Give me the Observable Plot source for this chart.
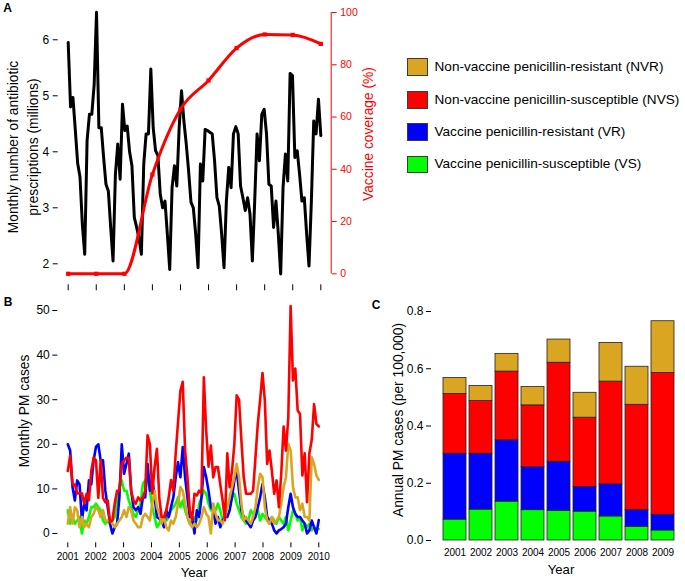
<!DOCTYPE html>
<html>
<head>
<meta charset="utf-8">
<script src="https://cdn.jsdelivr.net/npm/d3@7"></script>
<script src="https://cdn.jsdelivr.net/npm/@observablehq/plot@0.6"></script>
<style>
  html, body { margin: 0; padding: 0; background: #fff; }
  #fig { position: relative; width: 685px; height: 581px; overflow: hidden; background: #fff;
         font-family: Arial, "Liberation Sans", Helvetica, sans-serif; color: #000; }
  .pl { position: absolute; }
  .t { position: absolute; white-space: nowrap; line-height: 1; }
  .c { transform: translate(-50%, -50%); }
  .r { transform: translate(-50%, -50%) rotate(-90deg); }
  .sw { position: absolute; width: 19px; height: 15.7px; border: 1px solid #3a3a3a; }
  .lg { position: absolute; white-space: nowrap; font-size: 13.6px; transform: translateY(-50%); line-height: 1; }
</style>
</head>
<body>
<div id="fig"></div>
<script>
// ---------------- DATA ----------------
// Panel A: monthly antibiotic prescriptions (millions), Jan 2001 .. Dec 2009
const prescriptions = [
  5.95, 4.80, 4.97, 4.40, 3.80, 3.55, 2.70, 2.17, 4.20, 4.67, 4.67, 5.20,
  6.49, 4.43, 4.43, 3.90, 3.42, 3.30, 2.65, 2.05, 3.60, 4.14, 3.51, 4.85,
  4.38, 4.46, 4.00, 3.75, 2.83, 2.65, 2.45, 2.17, 3.78, 4.32, 4.32, 5.48,
  4.43, 4.02, 3.93, 3.24, 3.00, 3.12, 2.53, 1.90, 3.36, 3.75, 3.39, 4.43,
  5.09, 4.55, 4.14, 3.66, 3.10, 3.00, 2.53, 1.93, 3.78, 3.48, 4.40, 4.38,
  4.35, 4.32, 3.84, 3.18, 3.03, 2.53, 1.93, 3.12, 3.72, 3.36, 4.32, 4.45,
  4.32, 3.39, 3.18, 2.95, 3.18, 2.89, 2.05, 3.12, 4.32, 3.84, 4.67, 4.76,
  4.32, 3.42, 3.39, 2.65, 3.12, 2.53, 1.82, 3.36, 3.96, 3.48, 5.40, 5.36,
  3.90, 4.02, 3.60, 3.12, 3.18, 2.53, 1.96, 3.12, 4.55, 4.32, 4.94, 4.29
];
// Panel A: vaccine coverage (%) by year
const coverageYears = [2001, 2002, 2003, 2004, 2005, 2006, 2007, 2008, 2009, 2010];
const coverage = [0, 0, 0, 38, 63, 74, 86.4, 91.6, 91.4, 88];

// Panel B: monthly PM cases by group
const monthlyNVS = [
  14, 17.5, 11, 11, 9, 9, 9, 6.7, 8.9, 7.5, 14, 17,
  16.4, 8, 16.4, 8, 7, 7.4, 2.5, 2.9, 6.7, 9.6, 9.6, 15.6,
  16.4, 17, 17, 9.6, 7.4, 6.7, 8.1, 7.4, 8.1, 9.6, 22, 20,
  9, 14.9, 19, 8, 3.7, 3.7, 5.2, 8, 12, 9.6, 18, 25,
  32, 34, 18.6, 12.6, 5.2, 3, 8.9, 8.5, 9.6, 9, 35, 23,
  15, 19.7, 12.6, 14.9, 14.9, 11, 7.4, 3, 18, 10.4, 14, 20,
  31, 30, 21, 12.6, 8.9, 8.9, 8.9, 9.6, 17, 24.6, 30, 36,
  29.8, 15.6, 18.6, 14, 8.9, 11.9, 5.9, 13.4, 24, 18.6, 26, 51,
  34.3, 37, 27.6, 26.8, 13, 18, 7, 18, 21, 29, 24.6, 24
];
const monthlyVR = [
  20, 18.6, 10.4, 7.4, 11.9, 11, 3, 6.7, 5.2, 11.9, 11, 16.4,
  19.4, 20, 16.4, 16.4, 9.6, 5.9, 2.2, 0, 1.4, 2.2, 8.1, 20,
  13.4, 15.6, 17.9, 9.6, 5.9, 5.2, 5.9, 4.4, 8.1, 8.1, 15.6, 9.6,
  12.6, 8.1, 3.7, 3.3, 2.9, 1.4, 5.2, 3.7, 5.9, 8.1, 12.6, 16,
  12.6, 19.4, 12.6, 8.1, 3.7, 3.7, 0, 5.2, 3.7, 8.1, 14.9, 12.6,
  9.6, 5.9, 5.2, 2.2, 3.7, 1.4, 2.9, 3.7, 3.7, 5.2, 8.1, 11.9,
  14.1, 9.6, 5.2, 3.7, 2.9, 2.2, 1.4, 2.9, 3.7, 5.9, 8.1, 11.1,
  8.1, 3.7, 2.9, 2.2, 0.7, 0, 0.7, 1, 1.4, 2.2, 5.9, 8.9,
  5.9, 4.4, 3.7, 3.7, 2.9, 2.2, 0, 0.7, 2.9, 1.4, 0, 3
];
const monthlyVS = [
  5.2, 2.2, 3.7, 2.2, 2.9, 3.7, 0, 2.9, 2.2, 3.7, 5.9, 5.9,
  6.7, 5.9, 5.2, 2.9, 2.2, 2.9, 2.2, 2.9, 3.7, 7.4, 10.4, 11.9,
  9.6, 9.6, 7.4, 5.9, 4.4, 3.7, 5.2, 6.7, 11.1, 11.9, 12.6, 9.6,
  5.9, 3.7, 1.4, 2.2, 3.7, 2.9, 2.9, 3.7, 5.2, 5.9, 6.7, 8.1,
  5.9, 7.4, 5.2, 3.7, 2.2, 2.9, 3.7, 2.9, 6.7, 8.1, 9.6, 8.9,
  6.7, 5.2, 5.9, 5.2, 6.7, 5.2, 2.9, 3.7, 6.7, 6.7, 8.1, 8.9,
  6.7, 5.2, 3.7, 2.9, 2.2, 2.9, 5.2, 4.4, 5.2, 5.2, 2.9, 4.4,
  3.7, 2.9, 2.2, 3.7, 2.9, 2.2, 3.7, 2.9, 2.2, 3.7, 0.7, 2.9,
  5.2, 4.4, 2.9, 3.7, 0.7, 2.2, 1.4, 2.2, 0.7, 1.4, 1, 1
];
const monthlyNVR = [
  2.2, 5.9, 2.2, 5.9, 5.2, 1.4, 3.7, 1.4, 2.2, 1.4, 3.7, 4.4,
  5.9, 5.2, 3.7, 5.2, 2.9, 2.9, 2.9, 2.2, 1.4, 2.2, 2.9, 3.7,
  5.2, 3.7, 5.9, 5.2, 2.9, 2.2, 1.4, 1.4, 3.7, 4.4, 3.7, 2.9,
  6.7, 9.6, 5.9, 4.4, 2.2, 3.7, 1.4, 0.7, 2.9, 2.2, 3.7,
  6.7, 10.4, 9.6, 6.7, 3.7, 2.2, 1.4, 2.2, 1.4, 2.2, 3.7, 5.9,
  4.4, 3.7, 0, 6.7, 4.4, 2.9, 2.9, 2.2, 3.7, 5.9, 8.1, 10.4,
  12.6, 15.6, 12.6, 6.7, 2.9, 3.7, 2.9, 2.2, 3.7, 5.9, 10.4, 13.4,
  12.6, 5.9, 2.9, 2.2, 3.7, 2.2, 2.9, 3.7, 6.7, 10.4, 12.6, 20.1,
  18.6, 10.4, 8.1, 8.1, 5.2, 6.7, 3.7, 3.7, 2.9, 17.1, 15.6, 13, 12
];

// Panel C: annual PM cases (per 100,000) by group
const annualYears = [2001, 2002, 2003, 2004, 2005, 2006, 2007, 2008, 2009];
const annualVS  = [0.073, 0.108, 0.136, 0.106, 0.104, 0.101, 0.084, 0.048, 0.035];
const annualVR  = [0.230, 0.195, 0.214, 0.150, 0.171, 0.086, 0.112, 0.058, 0.055];
const annualNVS = [0.209, 0.184, 0.240, 0.216, 0.346, 0.242, 0.359, 0.368, 0.495];
const annualNVR = [0.056, 0.053, 0.062, 0.064, 0.081, 0.087, 0.135, 0.133, 0.181];

// Groups / legend
const groupKeys   = ["NVR", "NVS", "VR", "VS"];
const groupLabels = ["Non-vaccine penicillin-resistant (NVR)", "Non-vaccine penicillin-susceptible (NVS)",
                     "Vaccine penicillin-resistant (VR)", "Vaccine penicillin-susceptible (VS)"];
const groupColors = ["#DAA520", "#FF0000", "#0000FF", "#00FF00"];

// Tick values
const yearTicks = [2001, 2002, 2003, 2004, 2005, 2006, 2007, 2008, 2009, 2010];
const ticksA = [2, 3, 4, 5, 6];
const ticksCov = [0, 20, 40, 60, 80, 100];
const ticksB = [0, 10, 20, 30, 40, 50];
const ticksC = [0, 0.2, 0.4, 0.6, 0.8];

// ---------------- BUILD ----------------
const FONT = 'Arial, "Liberation Sans", Helvetica, sans-serif';
const fig = document.getElementById("fig");
const colorOf = Object.fromEntries(groupKeys.map((k, i) => [k, groupColors[i]]));

// monthly time index spanning 2001..2010
const monthT = (i, n) => 2001 + i * 9 / (n - 1);
const toMonthly = (arr, group) => arr.map((v, i) => ({t: monthT(i, arr.length), v, group}));

function place(svg, left, top) {
  const d = document.createElement("div");
  d.className = "pl";
  d.style.left = left + "px";
  d.style.top = top + "px";
  d.appendChild(svg);
  fig.appendChild(d);
}
function text(str, x, y, cls, css = {}) {
  const d = document.createElement("div");
  d.className = "t " + cls;
  d.textContent = str;
  d.style.left = x + "px";
  d.style.top = y + "px";
  Object.assign(d.style, css);
  fig.appendChild(d);
}

// ---- Panel A (black) ----
const xA = [2000.644, 2010.37];
const commonA = {width: 385, height: 295, marginLeft: 57.7, marginRight: 54.3, marginTop: 2, marginBottom: 10.7};
const plotA = Plot.plot({
  ...commonA,
  style: {background: "transparent", fontFamily: FONT, fontSize: "12px", color: "black", overflow: "visible"},
  x: {domain: xA, axis: null},
  y: {domain: [1.625, 6.666], axis: null},
  marks: [
    Plot.line(toMonthly(prescriptions, "rx"), {x: "t", y: "v", stroke: "black", strokeWidth: 3, strokeLinejoin: "round", strokeLinecap: "round"}),
    Plot.axisY({ticks: ticksA, tickFormat: d => String(d), tickSize: 5, tickPadding: 4, label: null, line: true}),
    Plot.axisX({ticks: yearTicks, tickSize: 6, tickFormat: () => "", label: null, line: true})
  ]
});
place(plotA, 0, 0);

// ---- Panel A (red overlay, vaccine coverage) ----
const vacc = coverageYears.map((y, i) => ({year: y, cov: coverage[i]}));
const plotA2 = Plot.plot({
  ...commonA,
  style: {background: "transparent", fontFamily: FONT, fontSize: "10.5px", color: "#FF0000", overflow: "visible"},
  x: {domain: xA, axis: null},
  y: {domain: [-4.21, 103.83], axis: null},
  marks: [
    Plot.ruleX([xA[1]], {y1: ticksCov[0], y2: ticksCov[ticksCov.length - 1], stroke: "#FF0000", strokeWidth: 1}),
    Plot.axisY({anchor: "right", ticks: ticksCov, tickFormat: d => String(d), tickSize: 5, tickPadding: 4, label: null}),
    Plot.line(vacc, {x: "year", y: "cov", stroke: "#FF0000", strokeWidth: 3, curve: "monotone-x"}),
    Plot.dot(vacc, {x: "year", y: "cov", symbol: "square", r: 2.4, fill: "#FF0000"})
  ]
});
place(plotA2, 0, 0);

// ---- Panel B ----
const monthlyData = [
  ...toMonthly(monthlyVS, "VS"),
  ...toMonthly(monthlyVR, "VR"),
  ...toMonthly(monthlyNVR, "NVR"),
  ...toMonthly(monthlyNVS, "NVS")
];
const plotB = Plot.plot({
  width: 340, height: 291, marginLeft: 57.3, marginRight: 14, marginTop: 11.7, marginBottom: 38.7,
  style: {background: "transparent", fontFamily: FONT, fontSize: "12px", color: "black", overflow: "visible"},
  x: {domain: [2000.641, 2010.277], axis: null},
  y: {domain: [-2.09, 51.87], axis: null},
  marks: [
    ...["VS", "VR", "NVR", "NVS"].map(g =>
      Plot.line(monthlyData.filter(d => d.group === g),
        {x: "t", y: "v", stroke: colorOf[g], strokeWidth: 2.6, strokeLinejoin: "round", strokeLinecap: "round"})),
    Plot.axisY({ticks: ticksB, tickFormat: d => String(d), tickSize: 5, tickPadding: 3, label: null, line: true}),
    Plot.axisX({ticks: yearTicks, tickSize: 5, tickPadding: 5, tickFormat: d => String(d), label: null, line: true, fontSize: 10})
  ]
});
place(plotB, 0, 290);

// ---- Panel C ----
const stackOrder = ["VS", "VR", "NVS", "NVR"];
const annualByGroup = {VS: annualVS, VR: annualVR, NVS: annualNVS, NVR: annualNVR};
const barData = annualYears.flatMap((y, i) => stackOrder.map(g => ({year: y, group: g, value: annualByGroup[g][i]})));
const plotC = Plot.plot({
  width: 325, height: 291, marginLeft: 71, marginRight: 0, marginTop: 21, marginBottom: 41,
  style: {background: "transparent", fontFamily: FONT, fontSize: "12px", color: "black", overflow: "visible"},
  x: {type: "band", domain: annualYears, range: [71, 325.6], paddingInner: 0.13, paddingOuter: 0.31, axis: null},
  y: {domain: [0, 0.8], axis: null},
  color: {domain: groupKeys, range: groupColors},
  marks: [
    Plot.barY(barData, {x: "year", y: "value", fill: "group", order: stackOrder, stroke: "#222", strokeWidth: 0.8}),
    Plot.axisY({ticks: ticksC, tickFormat: d => d.toFixed(1), tickSize: 5, tickPadding: 3, label: null, line: true}),
    Plot.axisX({tickSize: 0, tickPadding: 8, tickFormat: d => String(d), label: null, fontSize: 10})
  ]
});
place(plotC, 360, 290);

// ---- Texts ----
text("A", 7.5, 8, "c", {fontWeight: "bold", fontSize: "12px"});
text("B", 8, 301.5, "c", {fontWeight: "bold", fontSize: "12px"});
text("C", 376, 305, "c", {fontWeight: "bold", fontSize: "12px"});

text("Monthly number of antibiotic", 14, 147, "r", {fontSize: "13.8px"});
text("prescriptions (millions)", 33.5, 147, "r", {fontSize: "13.8px"});
text("Vaccine coverage (%)", 368.5, 134, "r", {fontSize: "13.8px", color: "#FF0000"});

text("Monthly PM cases", 25, 411, "r", {fontSize: "13.8px"});
text("Year", 194, 573, "c", {fontSize: "13.2px"});

text("Annual PM cases (per 100,000)", 398.5, 420, "r", {fontSize: "13.8px"});
text("Year", 561, 570, "c", {fontSize: "13.2px"});

// ---- Legend ----
const legendTops = [58.3, 91, 123.3, 155.7];
groupKeys.forEach((g, i) => {
  const sw = document.createElement("div");
  sw.className = "sw";
  sw.style.left = "406.7px";
  sw.style.top = legendTops[i] + "px";
  sw.style.background = groupColors[i];
  fig.appendChild(sw);
  const lg = document.createElement("div");
  lg.className = "lg";
  lg.textContent = groupLabels[i];
  lg.style.left = "434.5px";
  lg.style.top = (legendTops[i] + 8.6) + "px";
  fig.appendChild(lg);
});
</script>
</body>
</html>
